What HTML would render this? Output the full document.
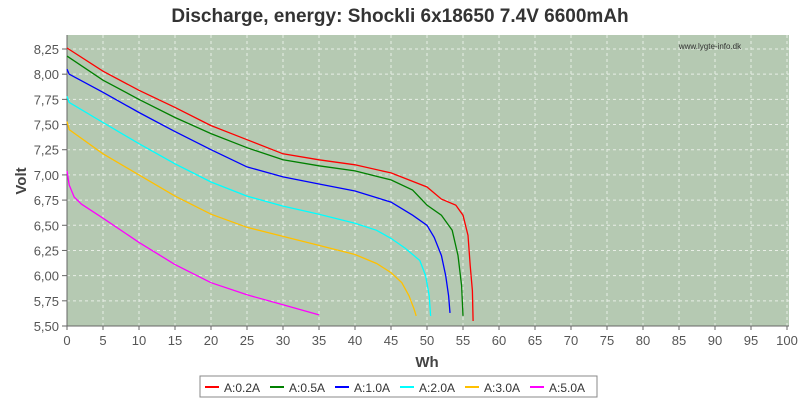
<!DOCTYPE html>
<html><head><meta charset="utf-8"><style>
body{margin:0;background:#fff;}
svg{display:block;font-family:"Liberation Sans",sans-serif;}
</style></head><body>
<svg id="chart" width="800" height="400">
<rect width="800" height="400" fill="#fff"/>
<text x="400" y="22" text-anchor="middle" font-size="19" font-weight="bold" fill="#333">Discharge, energy: Shockli 6x18650 7.4V 6600mAh</text>
<rect x="67" y="35" width="722" height="291" fill="#b5c9b2"/>
<g id="grid"></g>
<g id="axes"></g>
<g id="series"></g>
<text x="710" y="49" text-anchor="middle" font-size="8" fill="#333">www.lygte-info.dk</text>
<text x="427" y="367" text-anchor="middle" font-size="15" font-weight="bold" fill="#444">Wh</text>
<text x="26" y="181" text-anchor="middle" font-size="15" font-weight="bold" fill="#444" transform="rotate(-90 26 181)">Volt</text>
<g id="legend"></g>
</svg>
<script>
const xTicks=[0,5,10,15,20,25,30,35,40,45,50,55,60,65,70,75,80,85,90,95,100];
const yTicks=[5.5,5.75,6,6.25,6.5,6.75,7,7.25,7.5,7.75,8,8.25];
const seriesNames=["A:0.2A","A:0.5A","A:1.0A","A:2.0A","A:3.0A","A:5.0A"];
const seriesColors=["#ff0000","#008000","#0000ff","#00ffff","#ffc000","#ff00ff"];
const s02x=[0,5,10,15,20,25,30,35,40,45,50,52,54,55,55.7,56,56.3,56.4];
const s02y=[8.26,8.03,7.84,7.67,7.49,7.35,7.21,7.15,7.10,7.02,6.88,6.76,6.70,6.60,6.4,6.1,5.85,5.55];
const s05x=[0,5,10,15,20,25,30,35,40,45,48,50,52,53.5,54.3,54.8,55];
const s05y=[8.18,7.94,7.75,7.57,7.41,7.27,7.15,7.09,7.04,6.95,6.85,6.70,6.6,6.45,6.2,5.9,5.6];
const s10x=[0,0.3,5,10,15,20,25,30,35,40,45,48,50,51,52,52.6,53,53.2];
const s10y=[8.05,8.0,7.82,7.62,7.43,7.25,7.08,6.98,6.91,6.84,6.73,6.60,6.50,6.38,6.20,6.0,5.80,5.63];
const s20x=[0,0.3,5,10,15,20,25,30,35,40,43,45,47,49,49.8,50.3,50.5];
const s20y=[7.78,7.72,7.52,7.31,7.11,6.93,6.79,6.69,6.61,6.52,6.45,6.37,6.27,6.15,6.0,5.8,5.6];
const s30x=[0,0.3,5,10,15,20,25,30,35,40,43,45,46.5,47.5,48.2,48.5];
const s30y=[7.53,7.45,7.21,7.00,6.79,6.61,6.48,6.39,6.30,6.21,6.12,6.03,5.93,5.80,5.67,5.6];
const s50x=[0,0.3,1,2,5,10,15,20,25,30,35];
const s50y=[7.04,6.9,6.78,6.71,6.57,6.33,6.11,5.93,5.81,5.71,5.61];
const allX=[s02x,s05x,s10x,s20x,s30x,s50x];
const allY=[s02y,s05y,s10y,s20y,s30y,s50y];
const NS="http://www.w3.org/2000/svg";
const X0=67,X1=787,Y0=326,Y1=49;
function sx(v){return X0+(v-0)/100*(X1-X0);}
function sy(v){return Y0-(v-5.5)/(8.25-5.5)*(Y0-Y1);}
function mk(t,a,p){const e=document.createElementNS(NS,t);for(const k in a)e.setAttribute(k,a[k]);p.appendChild(e);return e;}
const grid=document.getElementById('grid'),axes=document.getElementById('axes'),ser=document.getElementById('series'),leg=document.getElementById('legend');
xTicks.forEach(t=>{const x=sx(t);
 if(t>0){const l=mk('line',{x1:x,x2:x,y1:35,y2:326,stroke:'#e8eee6','stroke-dasharray':'3,3','stroke-width':1},grid);
 
 }
 mk('line',{x1:x,x2:x,y1:326,y2:330,stroke:'#666'},axes);
 const tx=mk('text',{x:x,y:345,'text-anchor':'middle','font-size':13,fill:'#555'},axes);tx.textContent=t;
 
 });
yTicks.forEach(t=>{const y=sy(t);
 if(t>5.5){const l=mk('line',{x1:67,x2:789,y1:y,y2:y,stroke:'#e8eee6','stroke-dasharray':'3,3','stroke-width':1},grid);
 
 }
 mk('line',{x1:62,x2:67,y1:y,y2:y,stroke:'#666'},axes);
 const tx=mk('text',{x:59,y:y+5,'text-anchor':'end','font-size':13,fill:'#555'},axes);tx.textContent=t.toFixed(2).replace('.',',');
 
 });
mk('line',{x1:67,x2:67,y1:35,y2:326,stroke:'#666'},axes);
mk('line',{x1:67,x2:789,y1:326,y2:326,stroke:'#666'},axes);
allX.forEach((xs,i)=>{const pts=xs.map((x,j)=>sx(x).toFixed(1)+','+sy(allY[i][j]).toFixed(1)).join(' ');
 const p=mk('polyline',{points:pts,fill:'none',stroke:seriesColors[i],'stroke-width':1.3},ser);
 
 });
const lb=mk('rect',{x:200,y:376,width:397,height:21,fill:'#fff',stroke:'#888'},leg);


seriesNames.forEach((n,i)=>{const x=205+i*65;
 const g=mk('g',{},leg);
 
 
 mk('line',{x1:x,x2:x+14,y1:387,y2:387,stroke:seriesColors[i],'stroke-width':2},g);
 const t=mk('text',{x:x+19,y:392,'font-size':12,fill:'#333'},g);t.textContent=n;});
</script>
</body></html>
